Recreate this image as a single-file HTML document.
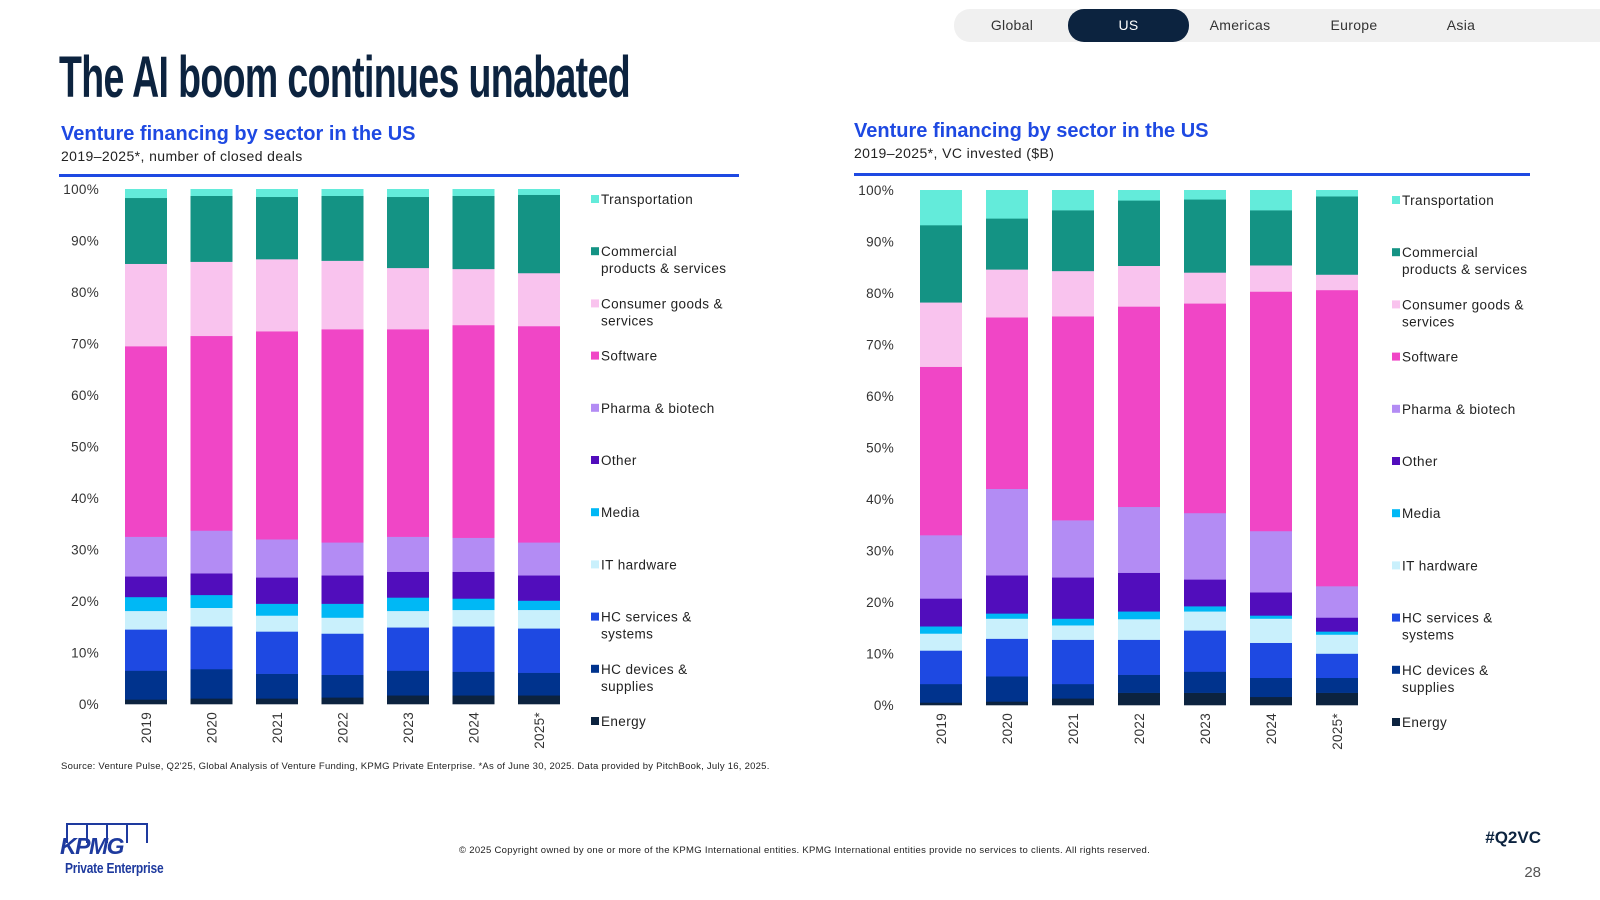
<!DOCTYPE html>
<html><head><meta charset="utf-8"><style>
body{margin:0;width:1600px;height:900px;background:#fff;position:relative;overflow:hidden;font-family:"Liberation Sans",sans-serif;}
.abs{position:absolute;}
.tab{position:absolute;top:9px;height:33px;line-height:33px;text-align:center;font-size:14px;color:#333;letter-spacing:0.3px;}
</style></head><body>
<div class="abs" style="left:954px;top:9px;width:646px;height:33px;background:#f0f0f0;border-radius:16px 0 0 16px;"></div>
<div class="tab" style="left:962px;width:100px;">Global</div>
<div class="tab" style="left:1068px;width:121px;background:#0c233f;color:#fff;border-radius:16px;">US</div>
<div class="tab" style="left:1190px;width:100px;">Americas</div>
<div class="tab" style="left:1304px;width:100px;">Europe</div>
<div class="tab" style="left:1411px;width:100px;">Asia</div>
<div class="abs" id="title" style="left:59px;top:44px;font-weight:bold;font-size:58px;color:#0c233f;letter-spacing:-1px;white-space:nowrap;transform-origin:0 0;">The AI boom continues unabated</div>

<div class="abs" style="left:61px;top:123px;font-size:20px;font-weight:bold;color:#1e49e2;">Venture financing by sector in the US</div>
<div class="abs" style="left:61px;top:148px;font-size:14px;letter-spacing:0.4px;color:#222;">2019–2025*, number of closed deals</div>
<div class="abs" style="left:59px;top:174px;width:680px;height:3px;background:#1e49e2;"></div>
<div class="abs" style="left:854px;top:120px;font-size:20px;font-weight:bold;color:#1e49e2;">Venture financing by sector in the US</div>
<div class="abs" style="left:854px;top:145px;font-size:14px;letter-spacing:0.4px;color:#222;">2019–2025*, VC invested ($B)</div>
<div class="abs" style="left:854px;top:173px;width:676px;height:3px;background:#1e49e2;"></div>

<svg class="abs" style="left:0;top:0" width="1600" height="900" id="charts"></svg>

<div class="abs" style="left:61px;top:761px;font-size:9.5px;letter-spacing:0.25px;color:#222;white-space:nowrap;">Source: Venture Pulse, Q2'25, Global Analysis of Venture Funding, KPMG Private Enterprise. *As of June 30, 2025. Data provided by PitchBook, July 16, 2025.</div>
<div class="abs" style="left:62px;top:823px;width:106px;height:56px;">
 <div style="position:absolute;left:4px;top:0;width:78px;height:18px;border:2px solid #1e3a9e;border-bottom:none;background:linear-gradient(90deg,transparent 18px,#1e3a9e 18px,#1e3a9e 20px,transparent 20px,transparent 38px,#1e3a9e 38px,#1e3a9e 40px,transparent 40px,transparent 58px,#1e3a9e 58px,#1e3a9e 60px,transparent 60px);"></div>
 <div style="position:absolute;left:-2px;top:10px;font-size:23px;font-weight:bold;font-style:italic;color:#1e3a9e;letter-spacing:-1.5px;">KPMG</div>
 <div style="position:absolute;left:3px;top:37px;font-size:15px;font-weight:bold;color:#1e3a9e;white-space:nowrap;transform:scaleX(0.8);transform-origin:0 0;letter-spacing:-0.3px;">Private Enterprise</div>
</div>
<div class="abs" style="left:459px;top:845px;font-size:9.5px;letter-spacing:0.3px;color:#222;white-space:nowrap;">© 2025 Copyright owned by one or more of the KPMG International entities. KPMG International entities provide no services to clients. All rights reserved.</div>
<div class="abs" style="right:59px;top:828px;font-size:17px;font-weight:bold;color:#0c233f;">#Q2VC</div>
<div class="abs" style="right:59px;top:864px;font-size:15px;color:#555;">28</div>

<script>
const years = ["2019","2020","2021","2022","2023","2024","2025*"];
const sectors = ["Energy","HC devices & supplies","HC services & systems","IT hardware","Media","Other","Pharma & biotech","Software","Consumer goods & services","Commercial products & services","Transportation"];
const colors = ["#0c233f","#00338d","#1e49e2","#c9f0fc","#00b8f5","#510dbc","#b38cf4","#f046c6","#f9c3ee","#149384","#63ebda"];
const yTicks = ["0%","10%","20%","30%","40%","50%","60%","70%","80%","90%","100%"];
// Deals (left chart), % share per sector, per year
const dealsEnergy = [0.9,1.1,1.1,1.3,1.7,1.7,1.7];
const dealsHcDevices = [5.6,5.7,4.8,4.4,4.8,4.6,4.4];
const dealsHcServices = [8.0,8.3,8.2,8.0,8.4,8.8,8.6];
const dealsIt = [3.6,3.6,3.1,3.1,3.2,3.2,3.6];
const dealsMedia = [2.7,2.5,2.3,2.7,2.6,2.2,1.8];
const dealsOther = [4.0,4.2,5.1,5.5,5.0,5.2,4.9];
const dealsPharma = [7.7,8.3,7.4,6.4,6.8,6.6,6.4];
const dealsSoftware = [37.0,37.8,40.4,41.4,40.3,41.3,42.0];
const dealsConsumer = [16.0,14.4,14.0,13.3,11.9,10.9,10.3];
const dealsCommercial = [12.8,12.8,12.1,12.6,13.8,14.2,15.2];
const dealsTransport = [1.7,1.3,1.5,1.3,1.5,1.3,1.1];
// VC invested (right chart)
const vcEnergy = [0.5,0.7,1.3,2.4,2.4,1.6,2.4];
const vcHcDevices = [3.6,4.9,2.8,3.5,4.1,3.7,2.9];
const vcHcServices = [6.5,7.3,8.6,6.8,8.0,6.8,4.7];
const vcIt = [3.3,3.9,2.8,4.0,3.7,4.7,3.7];
const vcMedia = [1.4,1.0,1.3,1.5,1.0,0.6,0.6];
const vcOther = [5.4,7.4,8.0,7.5,5.2,4.5,2.7];
const vcPharma = [12.3,16.8,11.1,12.8,12.9,11.9,6.1];
const vcSoftware = [32.7,33.3,39.6,38.9,40.7,46.5,57.5];
const vcConsumer = [12.5,9.3,8.8,7.9,6.0,5.1,3.0];
const vcCommercial = [15.0,9.9,11.8,12.7,14.2,10.7,15.2];
const vcTransport = [6.8,5.5,3.9,2.0,1.8,3.9,1.2];

const dealsSeries=[dealsEnergy,dealsHcDevices,dealsHcServices,dealsIt,dealsMedia,dealsOther,dealsPharma,dealsSoftware,dealsConsumer,dealsCommercial,dealsTransport];
const vcSeries=[vcEnergy,vcHcDevices,vcHcServices,vcIt,vcMedia,vcOther,vcPharma,vcSoftware,vcConsumer,vcCommercial,vcTransport];
const legendLines=[["Energy"],["HC devices &","supplies"],["HC services &","systems"],["IT hardware"],["Media"],["Other"],["Pharma & biotech"],["Software"],["Consumer goods &","services"],["Commercial","products & services"],["Transportation"]];

const NS="http://www.w3.org/2000/svg";
const svg=document.getElementById('charts');
function mk(t,a){const e=document.createElementNS(NS,t);for(const k in a)e.setAttribute(k,a[k]);svg.appendChild(e);return e;}

function drawChart(series,cfg,prefix){
  const y=v=>cfg.y0-(v/100)*(cfg.y0-cfg.y100);
  const x=i=>cfg.x0+i*cfg.pitch;
  yTicks.forEach((t,i)=>{
    const e=mk('text',{x:cfg.tickX,y:y(i*10)+5,'text-anchor':'end','font-size':13.5,fill:'#333','font-family':'Liberation Sans','letter-spacing':'0.3'});
    e.textContent=t;
    
    
  });
  years.forEach((yr,i)=>{
    let total=0;series.forEach(s=>total+=s[i]);
    let cum=0;
    series.forEach((s,k)=>{
      const v=s[i]/total*100;
      const r=mk('rect',{x:x(i)-cfg.bw/2,y:y(cum+v),width:cfg.bw,height:y(cum)-y(cum+v)+0.3,fill:colors[k]});
      
      
      cum+=v;
    });
    const tx=x(i)+5, ty=cfg.y0+8;
    const lab=mk('text',{x:tx,y:ty,'text-anchor':'end','font-size':13.5,fill:'#333','font-family':'Liberation Sans','letter-spacing':'0.3',transform:`rotate(-90 ${tx} ${ty})`});
    lab.textContent=yr;
    
    
  });
  for(let k=sectors.length-1;k>=0;k--){
    const idx=sectors.length-1-k;
    const ly=cfg.legY+idx*52.2;
    const sw=mk('rect',{x:cfg.legX,y:ly-4,width:8,height:8,fill:colors[k]});
    
    
    legendLines[k].forEach((ln,j)=>{
      const t=mk('text',{x:cfg.legX+10,y:ly+5+j*17,'font-size':13.5,fill:'#222','font-family':'Liberation Sans','letter-spacing':'0.4'});
      t.textContent=ln;
      
      
    });
  }
}
drawChart(dealsSeries,{x0:146,pitch:65.5,bw:42,y0:704,y100:189,tickX:99,legX:591,legY:199},'deals');
drawChart(vcSeries,{x0:941,pitch:66,bw:42,y0:705,y100:190,tickX:894,legX:1392,legY:200},'vc');

const t=document.getElementById('title');
const w=t.getBoundingClientRect().width;
t.style.transform='scaleX('+(571/w)+')';
</script>
</body></html>
